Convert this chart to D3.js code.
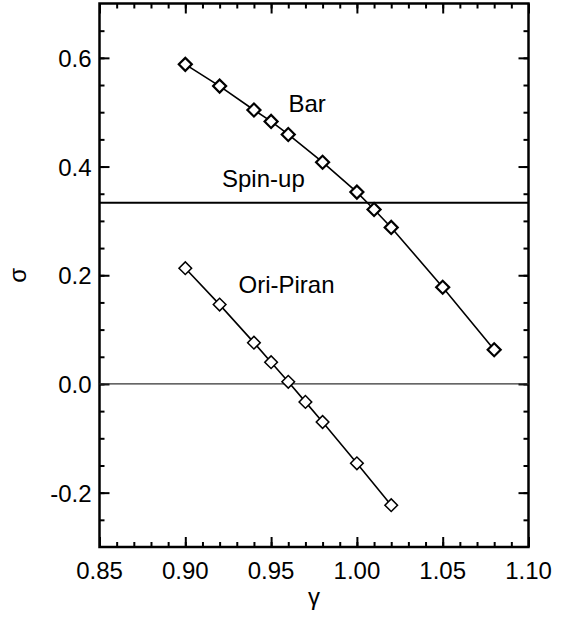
<!DOCTYPE html>
<html>
<head>
<meta charset="utf-8">
<script src="https://cdn.jsdelivr.net/npm/d3@7"></script>
<style>
  body { margin: 0; background: #fff; }
  svg { font-family: "Liberation Sans", Arial, sans-serif; }
</style>
</head>
<body>
<svg width="564" height="617"></svg>
<script>
// gamma values and sigma for each model
const barGamma = [0.90, 0.92, 0.94, 0.95, 0.96, 0.98, 1.00, 1.01, 1.02, 1.05, 1.08];
const barSigma = [0.588, 0.548, 0.504, 0.483, 0.459, 0.408, 0.353, 0.321, 0.288, 0.178, 0.063];
const oriGamma = [0.90, 0.92, 0.94, 0.95, 0.96, 0.97, 0.98, 1.00, 1.02];
const oriSigma = [0.213, 0.146, 0.076, 0.040, 0.004, -0.033, -0.070, -0.146, -0.223];
const spinUp = 1 / 3;
const xTicks = [0.85, 0.90, 0.95, 1.00, 1.05, 1.10];
const yTicks = [-0.2, 0.0, 0.2, 0.4, 0.6];
const labels = [
  { text: "Bar", g: 0.971, s: 0.501 },
  { text: "Spin-up", g: 0.9455, s: 0.362 },
  { text: "Ori-Piran", g: 0.959, s: 0.167 }
];

const margin = { top: 3.5, right: 35.5, bottom: 70, left: 99.5 };
const width = 564 - margin.left - margin.right;
const height = 617 - margin.top - margin.bottom;

const svg = d3.select("svg")
  .append("g")
  .attr("transform", `translate(${margin.left}, ${margin.top})`);

const x = d3.scaleLinear().domain([0.85, 1.10]).range([0, width]);
const y = d3.scaleLinear().domain([-0.3, 0.7]).range([height, 0]);

const xMinor = d3.range(86, 110).map(d => d / 100);
const yMinor = d3.range(-5, 14).map(d => d * 0.05);

function tickAxis(axis, scale, ticks, size) {
  return axis(scale).tickValues(ticks).tickSize(size).tickFormat("");
}

// minor ticks, all four sides (inward)
svg.append("g").attr("transform", `translate(0, ${height})`)
  .call(tickAxis(d3.axisTop, x, xMinor, 5));
svg.append("g")
  .call(tickAxis(d3.axisBottom, x, xMinor, 5));
svg.append("g")
  .call(tickAxis(d3.axisRight, y, yMinor, 5));
svg.append("g").attr("transform", `translate(${width}, 0)`)
  .call(tickAxis(d3.axisLeft, y, yMinor, 5));

// major ticks
svg.append("g").attr("transform", `translate(0, ${height})`)
  .call(tickAxis(d3.axisTop, x, xTicks, 10));
svg.append("g")
  .call(tickAxis(d3.axisBottom, x, xTicks, 10));
svg.append("g")
  .call(tickAxis(d3.axisRight, y, yTicks, 10));
svg.append("g").attr("transform", `translate(${width}, 0)`)
  .call(tickAxis(d3.axisLeft, y, yTicks, 10));

svg.selectAll(".domain").remove();
svg.selectAll(".tick line").attr("stroke", "#000").attr("stroke-width", 2);

// tick labels
svg.append("g").selectAll("text")
  .data(xTicks)
  .enter()
  .append("text")
  .attr("x", d => x(d))
  .attr("y", height + 32)
  .attr("text-anchor", "middle")
  .attr("font-size", 24)
  .text(d => d.toFixed(2));

svg.append("g").selectAll("text")
  .data(yTicks)
  .enter()
  .append("text")
  .attr("x", -8)
  .attr("y", d => y(d) + 9)
  .attr("text-anchor", "end")
  .attr("font-size", 24)
  .text(d => d.toFixed(1));

// frame
svg.append("rect")
  .attr("width", width)
  .attr("height", height)
  .attr("fill", "none")
  .attr("stroke", "#000")
  .attr("stroke-width", 2.5);

// reference lines
svg.append("line")
  .attr("x1", 0).attr("x2", width)
  .attr("y1", y(0)).attr("y2", y(0))
  .attr("stroke", "#333").attr("stroke-width", 1.2);

svg.append("line")
  .attr("x1", 0).attr("x2", width)
  .attr("y1", y(spinUp)).attr("y2", y(spinUp))
  .attr("stroke", "#000").attr("stroke-width", 2);

const line = d3.line().x(d => x(d[0])).y(d => y(d[1]));

function drawSeries(gs, ss, markerSize, markerWidth) {
  const pts = gs.map((g, i) => [g, ss[i]]);
  const diamond = d3.symbol().type(d3.symbolSquare).size(markerSize);
  svg.append("path")
    .datum(pts)
    .attr("d", line)
    .attr("fill", "none")
    .attr("stroke", "#000")
    .attr("stroke-width", 1.6);
  svg.append("g").selectAll("path")
    .data(pts)
    .enter()
    .append("path")
    .attr("d", diamond)
    .attr("transform", d => `translate(${x(d[0])}, ${y(d[1])}) rotate(45)`)
    .attr("fill", "#fff")
    .attr("stroke", "#000")
    .attr("stroke-width", markerWidth);
}

drawSeries(barGamma, barSigma, 85, 2.2);
drawSeries(oriGamma, oriSigma, 80, 1.5);

svg.append("g").selectAll("text")
  .data(labels)
  .enter()
  .append("text")
  .attr("x", d => x(d.g))
  .attr("y", d => y(d.s))
  .attr("text-anchor", "middle")
  .attr("font-size", 24)
  .text(d => d.text);

// axis titles
svg.append("text")
  .attr("x", width / 2)
  .attr("y", height + 58)
  .attr("text-anchor", "middle")
  .attr("font-size", 24)
  .text("γ");

svg.append("text")
  .attr("transform", `translate(-74, ${height / 2}) rotate(-90)`)
  .attr("text-anchor", "middle")
  .attr("font-size", 24)
  .text("σ");
</script>
</body>
</html>
